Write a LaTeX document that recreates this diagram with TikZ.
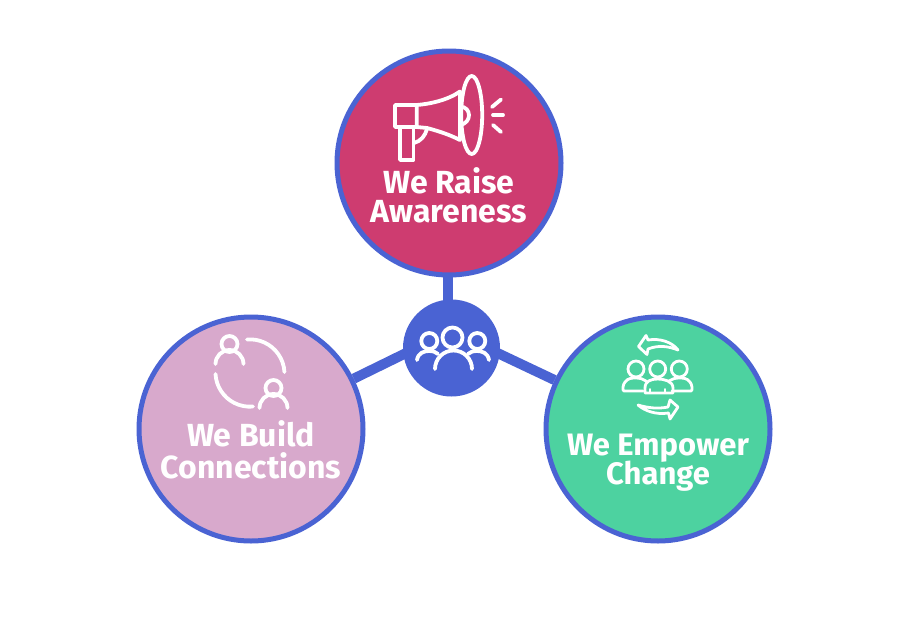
\documentclass[tikz,border=0pt]{standalone}
\usepackage{fontspec}
\usetikzlibrary{backgrounds}
\setmainfont{Fira Sans}
\definecolor{ringblue}{HTML}{4A63D3}
\definecolor{rosefill}{HTML}{CE3C70}
\definecolor{lilacfill}{HTML}{D8A9CC}
\definecolor{greenfill}{HTML}{4DD2A0}
\tikzset{
  bigcircle/.style={circle,draw=ringblue,line width=5pt,minimum size=224pt,inner sep=0pt},
  hubcircle/.style={circle,fill=ringblue,minimum size=97pt,inner sep=0pt},
  linkline/.style={draw=ringblue,line width=10pt},
  caption/.style={text=white,font=\bfseries\fontsize{32}{31}\selectfont,align=center,inner sep=0pt},
  icon/.style={draw=white,line width=3.8pt,line cap=round,line join=round},
  iconthin/.style={draw=white,line width=2.8pt,line cap=round,line join=round}
}
\begin{document}
\begin{tikzpicture}[x=1pt,y=-1pt]
\useasboundingbox (0,0) rectangle (897,632);
\node[hubcircle] (hub) at (451.5,348) {};
\coordinate (hubaim) at (451,331);
\node[bigcircle,fill=rosefill] (raise) at (449,163) {};
\node[bigcircle,fill=lilacfill] (build) at (251,429) {};
\node[bigcircle,fill=greenfill] (change) at (658,429) {};
\coordinate (raiseaim) at (448,163);
\coordinate (hubtop) at (448,340);
\begin{scope}[on background layer]
\fill[white] (0,0) rectangle (897,632);
\draw[linkline] (raiseaim) -- (hubtop);
\draw[linkline] (build) -- (hubaim);
\draw[linkline] (change) -- (hubaim);
\end{scope}
% captions
\node[caption] (t1) at (449,195) {We Raise\\[-2pt]Awareness};
\node[caption] (t2) at (251,450) {We Build\\[1pt]Connections};
\node[caption,font=\bfseries\fontsize{31}{31}\selectfont] (t3) at (658,463) {We Empower\\[-2pt]Change};
% megaphone
\draw[icon] (471.7,115) ellipse (10.5 and 39);
\draw[icon] (460,91.5) .. controls (448,100) and (430,104) .. (416.7,105) -- (395,105) -- (395,127) -- (416.7,127) -- (416.7,105);
\draw[icon] (416.7,127) -- (427,128) .. controls (438,131) and (448,134) .. (460,140) -- (460,91.5);
\draw[icon] (400,127) -- (400,160) -- (413.5,160) -- (413.5,127);
\draw[icon] (414,143) .. controls (421,141) and (425,136) .. (427,129);
\draw[icon] (460,106.5) .. controls (472,107) and (472,123) .. (460,125);
\draw[icon] (492,107) -- (501,99.5);
\draw[icon] (493,115) -- (503,115);
\draw[icon] (493,125) -- (501,132);
% people in hub
\draw[icon] (452.5,337.5) circle (10);
\draw[icon] (435,369) arc (180:360:18.5);
\draw[icon] (429.3,341) circle (8);
\draw[icon] (477.3,341) circle (8);
\draw[icon] (417,360) .. controls (418,353) and (424,351) .. (429,351) .. controls (433,351) and (436,352) .. (438,354);
\draw[icon] (489,360) .. controls (488,353) and (482,351) .. (477,351) .. controls (473,351) and (470,352) .. (468,354);
% connections icon
\draw[icon] (229.5,344) circle (8);
\draw[icon] (215.5,364) arc (180:360:14);
\draw[icon] (273.5,388) circle (8);
\draw[icon] (259.5,408) arc (180:360:14);
\draw[icon] (247,339.5) arc (-95:-3:34.5);
\draw[icon] (215.5,374) arc (177:85:34.5);
% empower icon
\draw[iconthin] (636,369) circle (8);
\draw[iconthin] (657.7,369) circle (8);
\draw[iconthin] (679.3,369) circle (8);
\draw[iconthin] (643,391) -- (624,391) .. controls (622,391) and (623,384) .. (625,382) .. controls (628,378) and (632,378) .. (636,378) .. controls (640,378) and (643,379) .. (646,381);
\draw[iconthin] (672,391) -- (691,391) .. controls (693,391) and (692,384) .. (690,382) .. controls (687,378) and (683,378) .. (679,378) .. controls (675,378) and (672,379) .. (669,381);
\draw[iconthin] (645,393) -- (645,388) .. controls (645,381) and (651,379) .. (657.7,379) .. controls (664,379) and (673,381) .. (673,388) -- (673,393) -- cycle;
\draw[iconthin,line width=2pt] (650,389) -- (650,393) (665,389) -- (665,393);
\draw[iconthin] (638.5,346.5) -- (646,335.5) -- (648,340) .. controls (660,338) and (672,342) .. (678,350) .. controls (668,346) and (658,345) .. (648,349) -- (647,354.5) -- cycle;
\draw[iconthin] (678,407) -- (670,419) -- (668.5,413) .. controls (656,415) and (645,411) .. (638,405) .. controls (648,408) and (658,409) .. (668,407) -- (670,400) -- cycle;
\end{tikzpicture}
\end{document}
